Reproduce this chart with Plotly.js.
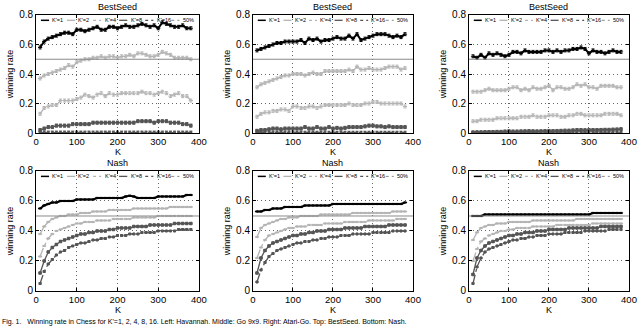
<!DOCTYPE html>
<html>
<head>
<meta charset="utf-8">
<script src="https://cdn.plot.ly/plotly-3.0.1.min.js"></script>
<style>
  html, body { margin: 0; padding: 0; background: #fff; }
  #grafico { width: 640px; height: 326px; }
</style>
</head>
<body>
<div id="grafico"></div>
<script>
// K values (x axis)
const kValues = [10, 20, 30, 40, 50, 60, 70, 80, 90, 100,
                 110, 120, 130, 140, 150, 160, 170, 180, 190, 200,
                 210, 220, 230, 240, 250, 260, 270, 280, 290, 300,
                 310, 320, 330, 340, 350, 360, 370, 380];
const seriesNames = ["K'=1", "K'=2", "K'=4", "K'=8", "K'=16"];
const xTicks = [0, 100, 200, 300, 400];
const yTicks = [0, 0.2, 0.4, 0.6, 0.8];
const yTickText = ['0', '0.2', '0.4', '0.6', '0.8'];
const halfRate = 0.5;

// BestSeed - esquerda
const bsLeftK1 = [0.58, 0.62, 0.64, 0.65, 0.66, 0.67, 0.68, 0.68, 0.67, 0.70,
                  0.70, 0.69, 0.70, 0.71, 0.72, 0.70, 0.70, 0.72, 0.72, 0.71,
                  0.72, 0.73, 0.72, 0.72, 0.73, 0.74, 0.73, 0.72, 0.73, 0.71,
                  0.75, 0.74, 0.73, 0.72, 0.72, 0.73, 0.71, 0.71];
const bsLeftK2 = [0.37, 0.39, 0.40, 0.41, 0.42, 0.43, 0.44, 0.46, 0.45, 0.48,
                  0.49, 0.50, 0.50, 0.51, 0.51, 0.52, 0.51, 0.52, 0.52, 0.51,
                  0.52, 0.52, 0.53, 0.52, 0.54, 0.54, 0.53, 0.52, 0.52, 0.53,
                  0.55, 0.54, 0.53, 0.51, 0.51, 0.51, 0.51, 0.50];
const bsLeftK4 = [0.13, 0.17, 0.18, 0.19, 0.19, 0.22, 0.22, 0.22, 0.22, 0.23,
                  0.24, 0.26, 0.25, 0.24, 0.26, 0.27, 0.25, 0.27, 0.26, 0.26,
                  0.27, 0.27, 0.27, 0.27, 0.27, 0.28, 0.27, 0.27, 0.26, 0.27,
                  0.28, 0.27, 0.25, 0.26, 0.27, 0.25, 0.25, 0.22];
const bsLeftK8 = [0.02, 0.03, 0.04, 0.04, 0.05, 0.05, 0.05, 0.05, 0.06, 0.06,
                  0.06, 0.06, 0.06, 0.07, 0.07, 0.07, 0.07, 0.07, 0.07, 0.07,
                  0.07, 0.07, 0.07, 0.07, 0.08, 0.08, 0.08, 0.08, 0.07, 0.08,
                  0.08, 0.08, 0.07, 0.07, 0.07, 0.06, 0.06, 0.05];
const bsLeftK16 = [0.002, 0.002, 0.003, 0.003, 0.003, 0.003, 0.003, 0.003, 0.003, 0.003,
                   0.003, 0.003, 0.003, 0.003, 0.003, 0.003, 0.003, 0.003, 0.003, 0.003,
                   0.003, 0.003, 0.003, 0.003, 0.003, 0.003, 0.003, 0.003, 0.003, 0.003,
                   0.003, 0.003, 0.003, 0.003, 0.003, 0.003, 0.003, 0.003];

// BestSeed - meio
const bsMidK1 = [0.56, 0.57, 0.58, 0.59, 0.60, 0.61, 0.61, 0.62, 0.62, 0.62,
                 0.62, 0.63, 0.61, 0.64, 0.63, 0.64, 0.62, 0.63, 0.63, 0.64,
                 0.65, 0.64, 0.64, 0.66, 0.64, 0.67, 0.63, 0.64, 0.65, 0.66,
                 0.67, 0.67, 0.67, 0.66, 0.65, 0.66, 0.65, 0.67];
const bsMidK2 = [0.31, 0.33, 0.34, 0.35, 0.36, 0.37, 0.38, 0.39, 0.39, 0.40,
                 0.40, 0.40, 0.39, 0.40, 0.41, 0.40, 0.40, 0.42, 0.42, 0.42,
                 0.42, 0.42, 0.42, 0.43, 0.42, 0.45, 0.43, 0.43, 0.44, 0.43,
                 0.43, 0.43, 0.44, 0.45, 0.45, 0.45, 0.43, 0.44];
const bsMidK4 = [0.11, 0.13, 0.14, 0.14, 0.15, 0.15, 0.16, 0.16, 0.15, 0.18,
                 0.18, 0.17, 0.17, 0.18, 0.18, 0.17, 0.18, 0.19, 0.19, 0.19,
                 0.19, 0.19, 0.19, 0.20, 0.19, 0.19, 0.19, 0.20, 0.20, 0.21,
                 0.21, 0.20, 0.20, 0.20, 0.20, 0.20, 0.20, 0.18];
const bsMidK8 = [0.015, 0.02, 0.02, 0.025, 0.03, 0.03, 0.025, 0.03, 0.03, 0.03,
                 0.03, 0.03, 0.04, 0.03, 0.03, 0.04, 0.03, 0.03, 0.04, 0.03,
                 0.035, 0.03, 0.035, 0.04, 0.04, 0.04, 0.04, 0.045, 0.05, 0.05,
                 0.045, 0.045, 0.04, 0.045, 0.04, 0.04, 0.04, 0.04];
const bsMidK16 = [0.002, 0.002, 0.002, 0.002, 0.002, 0.002, 0.002, 0.002, 0.002, 0.002,
                  0.002, 0.002, 0.002, 0.002, 0.002, 0.002, 0.002, 0.002, 0.002, 0.002,
                  0.002, 0.002, 0.002, 0.002, 0.002, 0.002, 0.002, 0.002, 0.002, 0.002,
                  0.002, 0.002, 0.002, 0.002, 0.002, 0.002, 0.002, 0.002];

// BestSeed - direita
const bsRightK1 = [0.52, 0.51, 0.53, 0.51, 0.54, 0.53, 0.54, 0.53, 0.52, 0.53,
                   0.55, 0.55, 0.54, 0.56, 0.55, 0.55, 0.55, 0.55, 0.56, 0.56,
                   0.55, 0.56, 0.55, 0.56, 0.56, 0.57, 0.57, 0.58, 0.57, 0.54,
                   0.56, 0.55, 0.55, 0.54, 0.55, 0.56, 0.55, 0.55];
const bsRightK2 = [0.28, 0.28, 0.28, 0.29, 0.30, 0.29, 0.29, 0.29, 0.29, 0.30,
                   0.31, 0.31, 0.29, 0.30, 0.29, 0.31, 0.30, 0.30, 0.31, 0.32,
                   0.29, 0.31, 0.31, 0.30, 0.30, 0.31, 0.33, 0.32, 0.33, 0.31,
                   0.31, 0.30, 0.32, 0.32, 0.32, 0.32, 0.31, 0.31];
const bsRightK4 = [0.08, 0.08, 0.09, 0.09, 0.09, 0.09, 0.10, 0.10, 0.10, 0.10,
                   0.10, 0.10, 0.11, 0.11, 0.11, 0.12, 0.11, 0.11, 0.11, 0.12,
                   0.12, 0.12, 0.11, 0.11, 0.12, 0.12, 0.13, 0.13, 0.12, 0.12,
                   0.12, 0.12, 0.12, 0.13, 0.13, 0.13, 0.13, 0.12];
const bsRightK8 = [0.004, 0.005, 0.005, 0.006, 0.007, 0.007, 0.008, 0.008, 0.010, 0.012,
                   0.010, 0.010, 0.011, 0.012, 0.013, 0.012, 0.011, 0.012, 0.013, 0.014,
                   0.013, 0.014, 0.015, 0.016, 0.016, 0.018, 0.020, 0.020, 0.019, 0.020,
                   0.020, 0.020, 0.021, 0.022, 0.022, 0.023, 0.024, 0.026];
const bsRightK16 = [0.001, 0.001, 0.001, 0.001, 0.001, 0.001, 0.001, 0.001, 0.001, 0.001,
                    0.001, 0.001, 0.001, 0.001, 0.001, 0.001, 0.001, 0.001, 0.001, 0.001,
                    0.001, 0.001, 0.001, 0.001, 0.001, 0.001, 0.001, 0.001, 0.001, 0.001,
                    0.001, 0.001, 0.001, 0.001, 0.001, 0.001, 0.001, 0.001];

// Nash - esquerda
const nashLeftK1 = [0.55, 0.57, 0.58, 0.59, 0.59, 0.60, 0.60, 0.60, 0.60, 0.61,
                    0.61, 0.61, 0.61, 0.61, 0.62, 0.62, 0.62, 0.62, 0.62, 0.62,
                    0.62, 0.63, 0.635, 0.63, 0.62, 0.62, 0.62, 0.62, 0.62, 0.63,
                    0.63, 0.63, 0.63, 0.63, 0.63, 0.63, 0.64, 0.64];
const nashLeftK2 = [0.38, 0.43, 0.46, 0.48, 0.49, 0.50, 0.50, 0.51, 0.51, 0.51,
                    0.52, 0.52, 0.52, 0.53, 0.53, 0.53, 0.53, 0.54, 0.54, 0.54,
                    0.54, 0.54, 0.54, 0.55, 0.55, 0.55, 0.55, 0.55, 0.55, 0.55,
                    0.55, 0.55, 0.56, 0.56, 0.56, 0.56, 0.56, 0.56];
const nashLeftK4 = [0.23, 0.30, 0.35, 0.38, 0.40, 0.41, 0.42, 0.43, 0.44, 0.45,
                    0.45, 0.46, 0.46, 0.46, 0.47, 0.47, 0.47, 0.47, 0.48, 0.48,
                    0.48, 0.48, 0.48, 0.49, 0.49, 0.49, 0.49, 0.49, 0.49, 0.50,
                    0.50, 0.50, 0.50, 0.50, 0.50, 0.50, 0.50, 0.50];
const nashLeftK8 = [0.12, 0.20, 0.26, 0.29, 0.31, 0.33, 0.34, 0.35, 0.36, 0.37,
                    0.38, 0.38, 0.39, 0.39, 0.40, 0.40, 0.40, 0.41, 0.41, 0.42,
                    0.42, 0.42, 0.42, 0.43, 0.43, 0.43, 0.43, 0.44, 0.44, 0.44,
                    0.44, 0.44, 0.44, 0.45, 0.45, 0.45, 0.45, 0.45];
const nashLeftK16 = [0.05, 0.13, 0.18, 0.21, 0.24, 0.26, 0.27, 0.29, 0.30, 0.31,
                     0.32, 0.32, 0.33, 0.34, 0.34, 0.35, 0.35, 0.36, 0.36, 0.37,
                     0.37, 0.37, 0.38, 0.38, 0.38, 0.39, 0.39, 0.39, 0.39, 0.40,
                     0.40, 0.40, 0.40, 0.40, 0.41, 0.41, 0.41, 0.41];

// Nash - meio
const nashMidK1 = [0.53, 0.53, 0.54, 0.54, 0.55, 0.55, 0.55, 0.56, 0.56, 0.56,
                   0.56, 0.56, 0.57, 0.57, 0.57, 0.57, 0.57, 0.57, 0.57, 0.58,
                   0.58, 0.58, 0.58, 0.58, 0.58, 0.58, 0.58, 0.58, 0.58, 0.58,
                   0.58, 0.58, 0.58, 0.58, 0.58, 0.58, 0.58, 0.59];
const nashMidK2 = [0.36, 0.42, 0.44, 0.45, 0.46, 0.47, 0.48, 0.48, 0.49, 0.49,
                   0.49, 0.50, 0.50, 0.50, 0.50, 0.50, 0.51, 0.51, 0.51, 0.51,
                   0.51, 0.51, 0.51, 0.51, 0.52, 0.52, 0.52, 0.52, 0.52, 0.52,
                   0.52, 0.52, 0.52, 0.52, 0.53, 0.53, 0.53, 0.53];
const nashMidK4 = [0.22, 0.29, 0.34, 0.37, 0.38, 0.39, 0.40, 0.41, 0.42, 0.42,
                   0.43, 0.43, 0.43, 0.44, 0.44, 0.44, 0.44, 0.45, 0.45, 0.45,
                   0.45, 0.45, 0.46, 0.46, 0.46, 0.46, 0.46, 0.46, 0.47, 0.47,
                   0.47, 0.47, 0.47, 0.47, 0.47, 0.48, 0.48, 0.48];
const nashMidK8 = [0.12, 0.22, 0.27, 0.30, 0.32, 0.33, 0.34, 0.35, 0.36, 0.37,
                   0.37, 0.38, 0.38, 0.39, 0.39, 0.40, 0.40, 0.40, 0.41, 0.41,
                   0.41, 0.41, 0.42, 0.42, 0.42, 0.42, 0.42, 0.43, 0.43, 0.43,
                   0.43, 0.43, 0.43, 0.44, 0.44, 0.44, 0.44, 0.44];
const nashMidK16 = [0.06, 0.14, 0.19, 0.23, 0.25, 0.27, 0.28, 0.29, 0.30, 0.31,
                    0.32, 0.32, 0.33, 0.33, 0.34, 0.34, 0.35, 0.35, 0.36, 0.36,
                    0.36, 0.37, 0.37, 0.37, 0.38, 0.38, 0.38, 0.38, 0.38, 0.39,
                    0.39, 0.39, 0.39, 0.39, 0.40, 0.40, 0.40, 0.40];

// Nash - direita
const nashRightK1 = [0.50, 0.50, 0.50, 0.51, 0.51, 0.51, 0.51, 0.51, 0.51, 0.51,
                     0.51, 0.51, 0.51, 0.51, 0.51, 0.51, 0.51, 0.51, 0.51, 0.51,
                     0.51, 0.51, 0.51, 0.51, 0.51, 0.51, 0.51, 0.51, 0.51, 0.51,
                     0.52, 0.52, 0.52, 0.52, 0.52, 0.52, 0.52, 0.52];
const nashRightK2 = [0.34, 0.39, 0.42, 0.43, 0.44, 0.44, 0.45, 0.45, 0.45, 0.46,
                     0.46, 0.46, 0.46, 0.46, 0.46, 0.47, 0.47, 0.47, 0.47, 0.47,
                     0.47, 0.47, 0.47, 0.47, 0.47, 0.47, 0.48, 0.48, 0.48, 0.48,
                     0.48, 0.48, 0.48, 0.48, 0.48, 0.48, 0.48, 0.48];
const nashRightK4 = [0.20, 0.28, 0.33, 0.35, 0.37, 0.38, 0.39, 0.40, 0.40, 0.41,
                     0.41, 0.42, 0.42, 0.42, 0.42, 0.43, 0.43, 0.43, 0.43, 0.43,
                     0.43, 0.44, 0.44, 0.44, 0.44, 0.44, 0.44, 0.44, 0.44, 0.44,
                     0.45, 0.45, 0.45, 0.45, 0.45, 0.45, 0.45, 0.45];
const nashRightK8 = [0.11, 0.22, 0.27, 0.30, 0.32, 0.33, 0.34, 0.35, 0.36, 0.37,
                     0.37, 0.38, 0.38, 0.39, 0.39, 0.39, 0.40, 0.40, 0.40, 0.41,
                     0.41, 0.41, 0.41, 0.41, 0.42, 0.42, 0.42, 0.42, 0.42, 0.42,
                     0.42, 0.42, 0.43, 0.43, 0.43, 0.43, 0.43, 0.43];
const nashRightK16 = [0.05, 0.16, 0.22, 0.26, 0.28, 0.29, 0.30, 0.31, 0.32, 0.33,
                      0.34, 0.34, 0.35, 0.35, 0.36, 0.36, 0.37, 0.37, 0.37, 0.38,
                      0.38, 0.38, 0.38, 0.39, 0.39, 0.39, 0.39, 0.39, 0.40, 0.40,
                      0.40, 0.40, 0.40, 0.40, 0.41, 0.41, 0.41, 0.41];

const bsError = 0.01;
const nashError = 0.004;

// Painéis: linha de cima BestSeed, linha de baixo Nash
const panels = [
    { title: 'BestSeed', series: [bsLeftK1, bsLeftK2, bsLeftK4, bsLeftK8, bsLeftK16], err: bsError },
    { title: 'BestSeed', series: [bsMidK1, bsMidK2, bsMidK4, bsMidK8, bsMidK16], err: bsError },
    { title: 'BestSeed', series: [bsRightK1, bsRightK2, bsRightK4, bsRightK8, bsRightK16], err: bsError },
    { title: 'Nash', series: [nashLeftK1, nashLeftK2, nashLeftK4, nashLeftK8, nashLeftK16], err: nashError },
    { title: 'Nash', series: [nashMidK1, nashMidK2, nashMidK4, nashMidK8, nashMidK16], err: nashError },
    { title: 'Nash', series: [nashRightK1, nashRightK2, nashRightK4, nashRightK8, nashRightK16], err: nashError }
];

// Estilo de cada série (K'=1, 2, 4, 8, 16)
const styles = [
    { color: '#000000', width: 2, dash: 'solid', symbol: 'line-ew', size: 3 },
    { color: '#b4b4b4', width: 1.3, dash: 'solid', symbol: 'line-ew', size: 3 },
    { color: '#b4b4b4', width: 1.3, dash: 'dashdot', symbol: 'line-ew', size: 3 },
    { color: '#555555', width: 1.3, dash: 'solid', symbol: 'square', size: 2.5 },
    { color: '#555555', width: 1.3, dash: 'dashdot', symbol: 'square', size: 2 }
];
const halfStyle = { color: '#8a8a8a', width: 1, dash: 'solid' };

// Posições dos eixos (em fração do papel)
const colDomains = [[0.0563, 0.3109], [0.3953, 0.6453], [0.7328, 0.9828]];
const rowDomains = [[0.592, 0.954], [0.1074, 0.4755]];

const font = 'Liberation Sans, Arial, sans-serif';
const data = [];
const layout = {
    width: 640, height: 326,
    margin: { l: 0, r: 0, t: 0, b: 0 },
    paper_bgcolor: '#ffffff',
    plot_bgcolor: '#ffffff',
    showlegend: false,
    font: { family: font, color: '#000', size: 10 },
    shapes: [],
    annotations: []
};

panels.forEach(function (panel, p) {
    const n = p + 1;
    const xa = 'x' + (n === 1 ? '' : n);
    const ya = 'y' + (n === 1 ? '' : n);
    const col = p % 3;
    const row = Math.floor(p / 3);

    panel.series.forEach(function (vals, s) {
        const st = styles[s];
        data.push({
            x: kValues,
            y: vals,
            xaxis: xa, yaxis: ya,
            type: 'scatter',
            mode: 'lines+markers',
            name: seriesNames[s],
            line: { color: st.color, width: st.width, dash: st.dash },
            marker: { color: st.color, size: st.size, symbol: st.symbol, line: { color: st.color, width: 1 } },
            error_y: { type: 'constant', value: panel.err, color: st.color, thickness: 1, width: 1.5 }
        });
    });

    layout['xaxis' + (n === 1 ? '' : n)] = {
        domain: colDomains[col], anchor: ya,
        range: [0, 400], tickvals: xTicks,
        ticks: 'inside', ticklen: 3, tickcolor: '#000',
        showline: true, mirror: 'ticks', linecolor: '#000', linewidth: 1,
        showgrid: true, gridcolor: '#666', griddash: '1px,3px', gridwidth: 1,
        zeroline: false,
        tickfont: { family: font, size: 9.5 }
    };
    layout['yaxis' + (n === 1 ? '' : n)] = {
        domain: rowDomains[row], anchor: xa,
        range: [0, 0.8], tickvals: yTicks, ticktext: yTickText,
        ticks: 'inside', ticklen: 3, tickcolor: '#000',
        showline: true, mirror: 'ticks', linecolor: '#000', linewidth: 1,
        showgrid: true, gridcolor: '#666', griddash: '1px,3px', gridwidth: 1,
        zeroline: false,
        tickfont: { family: font, size: 10 },
        title: { text: 'winning rate', font: { family: font, size: 9 }, standoff: 3 }
    };

    // rótulo do eixo x (K)
    layout.annotations.push({
        text: 'K', showarrow: false,
        xref: xa + ' domain', yref: ya + ' domain',
        x: 0.5, y: 0, yanchor: 'top', yshift: -12,
        font: { family: font, size: 9 }
    });

    // linha de 50%
    layout.shapes.push({
        type: 'line', xref: xa + ' domain', yref: ya,
        x0: 0, x1: 1, y0: halfRate, y1: halfRate,
        line: halfStyle
    });

    // título do painel
    layout.annotations.push({
        text: panel.title, showarrow: false,
        xref: xa + ' domain', yref: ya + ' domain',
        x: 0.5, y: 1, yanchor: 'bottom', yshift: 1,
        font: { family: font, size: 9 }
    });

    // legenda desenhada dentro do topo do painel
    const legendNames = seriesNames.concat(['50%']);
    const legendStyles = styles.concat([{ color: '#8a8a8a', width: 1, dash: 'dot' }]);
    legendNames.forEach(function (name, i) {
        const x0 = 0.03 + i * 0.16;
        const ls = legendStyles[i];
        layout.shapes.push({
            type: 'line', xref: xa + ' domain', yref: ya + ' domain',
            x0: x0, x1: x0 + 0.05, y0: 0.955, y1: 0.955,
            line: { color: ls.color, width: Math.min(ls.width, 1.5), dash: ls.dash === 'solid' ? 'solid' : 'dot' }
        });
        layout.annotations.push({
            text: name, showarrow: false,
            xref: xa + ' domain', yref: ya + ' domain',
            x: x0 + 0.058, y: 0.955, xanchor: 'left', yanchor: 'middle',
            font: { family: font, size: 5.5 }
        });
    });
});

// legenda da figura (só a parte de cima aparece no original)
layout.annotations.push({
    text: 'Fig. 1.   Winning rate in Chess for K\'=1, 2, 4, 8, 16. Left: Havannah. Middle: Go 9x9. Right: Atari-Go. Top: BestSeed. Bottom: Nash.',
    showarrow: false, xref: 'paper', yref: 'paper',
    x: 0, y: 0, xanchor: 'left', yanchor: 'bottom', yshift: -2,
    font: { family: font, size: 7 }
});

Plotly.newPlot('grafico', data, layout, { staticPlot: true, displayModeBar: false });
</script>
</body>
</html>
